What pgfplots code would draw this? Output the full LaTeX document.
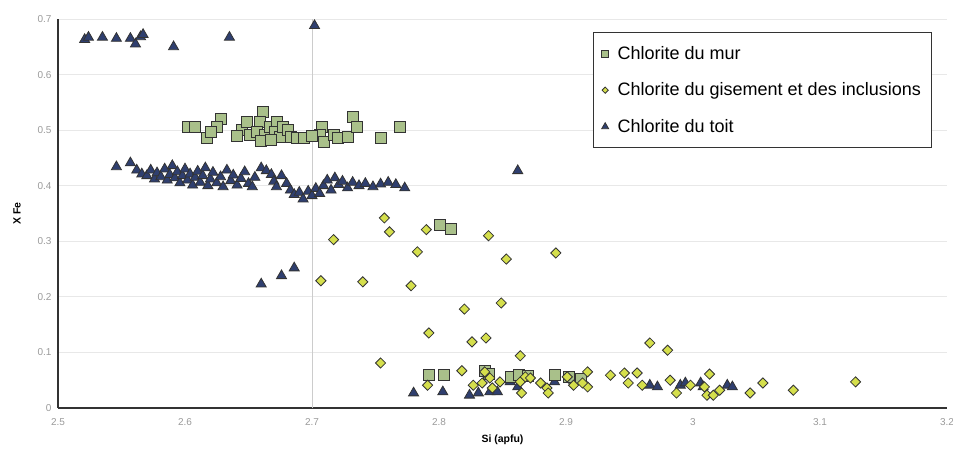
\documentclass[border=0pt]{standalone}
\usepackage{pgfplots}
\pgfplotsset{compat=1.18}
\usepackage{fontspec}
\setmainfont{Liberation Sans}
\definecolor{murfill}{HTML}{A9C08A}
\definecolor{gisfill}{HTML}{D5DF4C}
\definecolor{toitfill}{HTML}{2F3F6F}
\definecolor{edge}{HTML}{333333}
\definecolor{tickgray}{HTML}{9A9A9A}
\begin{document}
\begin{tikzpicture}
\begin{axis}[
  at={(0,0)}, anchor=south west,
  scale only axis, width=889pt, height=389pt,
  xmin=2.5, xmax=3.2, ymin=0, ymax=0.7,
  xtick={2.5,2.6,...,3.21}, ytick={0,0.1,...,0.71},
  axis lines*=left,
  axis line style={-, draw=edge, line width=1.2pt},
  major tick length=0pt,
  ymajorgrids, grid style={draw=black!9, line width=0.8pt},
  extra x ticks={2.7}, extra x tick labels={},
  extra x tick style={xmajorgrids=true, grid style={draw=black!20, line width=0.8pt}},
  tick label style={font=\fontsize{10}{11}\selectfont, text=tickgray},
  yticklabel style={xshift=-3pt},
  xticklabel style={yshift=-7pt},
  /pgf/number format/assume math mode=true,
  /pgf/number format/.cd, fixed, precision=1, /pgfplots/.cd,
  xlabel={\textbf{Si (apfu)}}, ylabel={\textbf{X Fe}},
  label style={font=\fontsize{10.5}{12}\selectfont},
  xlabel style={yshift=-2pt},
  ylabel style={yshift=10pt},
  legend style={at={(0.602,0.967)}, anchor=north west, draw=edge, line width=1pt,
    font=\fontsize{18}{20}\selectfont, row sep=18pt, column sep=6pt, inner xsep=8pt, inner ysep=12pt,
    fill=white, nodes={inner xsep=3pt}},
  legend cell align=left,
]
\addlegendimage{only marks, mark=square*, mark size=3.5pt, mark options={fill=murfill, draw=edge, line width=0.8pt}}
\addlegendimage{only marks, mark=square*, mark size=2.2pt, mark options={rotate=45, fill=gisfill, draw=edge, line width=0.8pt}}
\addlegendimage{only marks, mark=triangle*, mark size=4pt, mark options={fill=toitfill, draw=edge, line width=0.8pt}}

% Chlorite du toit
\addplot[forget plot, only marks, mark=triangle*, mark size=5.8pt, mark options={fill=toitfill, draw=edge, line width=0.8pt}] coordinates {
(2.521,0.663) (2.524,0.667) (2.535,0.667) (2.546,0.665) (2.557,0.665) (2.561,0.655) (2.565,0.668) (2.567,0.672)
(2.591,0.650) (2.635,0.667) (2.702,0.688)
(2.862,0.427) (2.660,0.223) (2.676,0.238) (2.686,0.252)
(2.546,0.434) (2.557,0.441) (2.562,0.428) (2.566,0.421) (2.570,0.418) (2.573,0.428) (2.576,0.412) (2.578,0.423)
(2.581,0.416) (2.584,0.430) (2.586,0.410) (2.588,0.420) (2.590,0.436) (2.592,0.414) (2.594,0.425) (2.596,0.405)
(2.598,0.418) (2.600,0.430) (2.602,0.410) (2.604,0.421) (2.606,0.401) (2.608,0.415) (2.610,0.426) (2.612,0.406)
(2.614,0.418) (2.616,0.432) (2.618,0.400) (2.620,0.412) (2.622,0.424) (2.625,0.405) (2.628,0.416) (2.630,0.398)
(2.633,0.428) (2.636,0.409) (2.638,0.419) (2.641,0.401) (2.644,0.413) (2.647,0.425) (2.650,0.404) (2.653,0.398)
(2.655,0.415) (2.660,0.432) (2.664,0.427) (2.668,0.420) (2.670,0.408) (2.672,0.398) (2.676,0.418) (2.680,0.404)
(2.683,0.392) (2.686,0.384) (2.690,0.388) (2.693,0.376) (2.697,0.390) (2.700,0.382) (2.703,0.395) (2.706,0.386)
(2.709,0.400) (2.712,0.410) (2.715,0.392) (2.718,0.414) (2.721,0.402) (2.724,0.408) (2.728,0.396) (2.732,0.406)
(2.737,0.400) (2.742,0.404) (2.748,0.398) (2.754,0.403) (2.760,0.406) (2.766,0.402) (2.773,0.396)
(2.780,0.027) (2.803,0.029) (2.824,0.023) (2.831,0.027) (2.840,0.029) (2.846,0.029) (2.856,0.047) (2.862,0.038)
(2.891,0.047) (2.906,0.050) (2.966,0.041) (2.972,0.038) (2.990,0.041) (2.994,0.045) (3.006,0.045) (3.008,0.038)
(3.027,0.041) (3.031,0.038)
};

% Chlorite du mur
\addplot[forget plot, only marks, mark=square*, mark size=5.5pt, mark options={fill=murfill, draw=edge, line width=0.8pt}] coordinates {
(2.602,0.506) (2.608,0.506) (2.628,0.521) (2.625,0.506) (2.617,0.486) (2.620,0.497) (2.645,0.501) (2.649,0.514)
(2.651,0.492) (2.661,0.533) (2.659,0.515) (2.657,0.497) (2.663,0.492) (2.667,0.505) (2.672,0.515) (2.671,0.497)
(2.675,0.488) (2.677,0.505) (2.681,0.501) (2.683,0.488) (2.688,0.486) (2.694,0.486) (2.708,0.506) (2.706,0.492)
(2.709,0.479) (2.717,0.492) (2.720,0.486) (2.728,0.488) (2.732,0.523) (2.735,0.505) (2.754,0.486) (2.769,0.505)
(2.660,0.480) (2.641,0.490) (2.700,0.490) (2.668,0.482)
(2.801,0.330) (2.809,0.323)
(2.792,0.059) (2.804,0.059) (2.836,0.066) (2.839,0.062) (2.857,0.056) (2.863,0.059) (2.870,0.058) (2.891,0.060)
(2.902,0.056) (2.912,0.052)
};

% Chlorite du gisement et des inclusions
\addplot[forget plot, only marks, mark=square*, mark size=3.6pt, mark options={rotate=45, fill=gisfill, draw=edge, line width=0.8pt}] coordinates {
(2.717,0.303) (2.761,0.317) (2.790,0.321) (2.839,0.310) (2.783,0.281) (2.853,0.268) (2.892,0.279) (2.757,0.342)
(2.707,0.229) (2.740,0.227) (2.778,0.220) (2.820,0.178) (2.849,0.189) (2.792,0.135) (2.826,0.119) (2.837,0.126)
(2.864,0.094) (2.754,0.081) (2.818,0.067)
(2.791,0.041) (2.836,0.065) (2.827,0.041) (2.834,0.045) (2.840,0.054) (2.842,0.036) (2.848,0.047) (2.864,0.047)
(2.868,0.056) (2.872,0.054) (2.865,0.027) (2.880,0.045) (2.885,0.036) (2.886,0.027) (2.901,0.056) (2.906,0.041)
(2.917,0.065) (2.917,0.038) (2.913,0.045) (2.935,0.059) (2.946,0.063) (2.949,0.045) (2.956,0.063) (2.960,0.041)
(2.966,0.117) (2.980,0.104) (2.982,0.050) (2.987,0.027) (2.998,0.041) (3.013,0.061) (3.009,0.038) (3.011,0.023)
(3.016,0.023) (3.021,0.032) (3.045,0.027) (3.055,0.045) (3.079,0.032) (3.128,0.047)
};
\legend{Chlorite du mur, Chlorite du gisement et des inclusions, Chlorite du toit}
\end{axis}
\pgfresetboundingbox
\path[use as bounding box] (-58pt,-42pt) rectangle (895pt,408pt);
\end{tikzpicture}
\end{document}
